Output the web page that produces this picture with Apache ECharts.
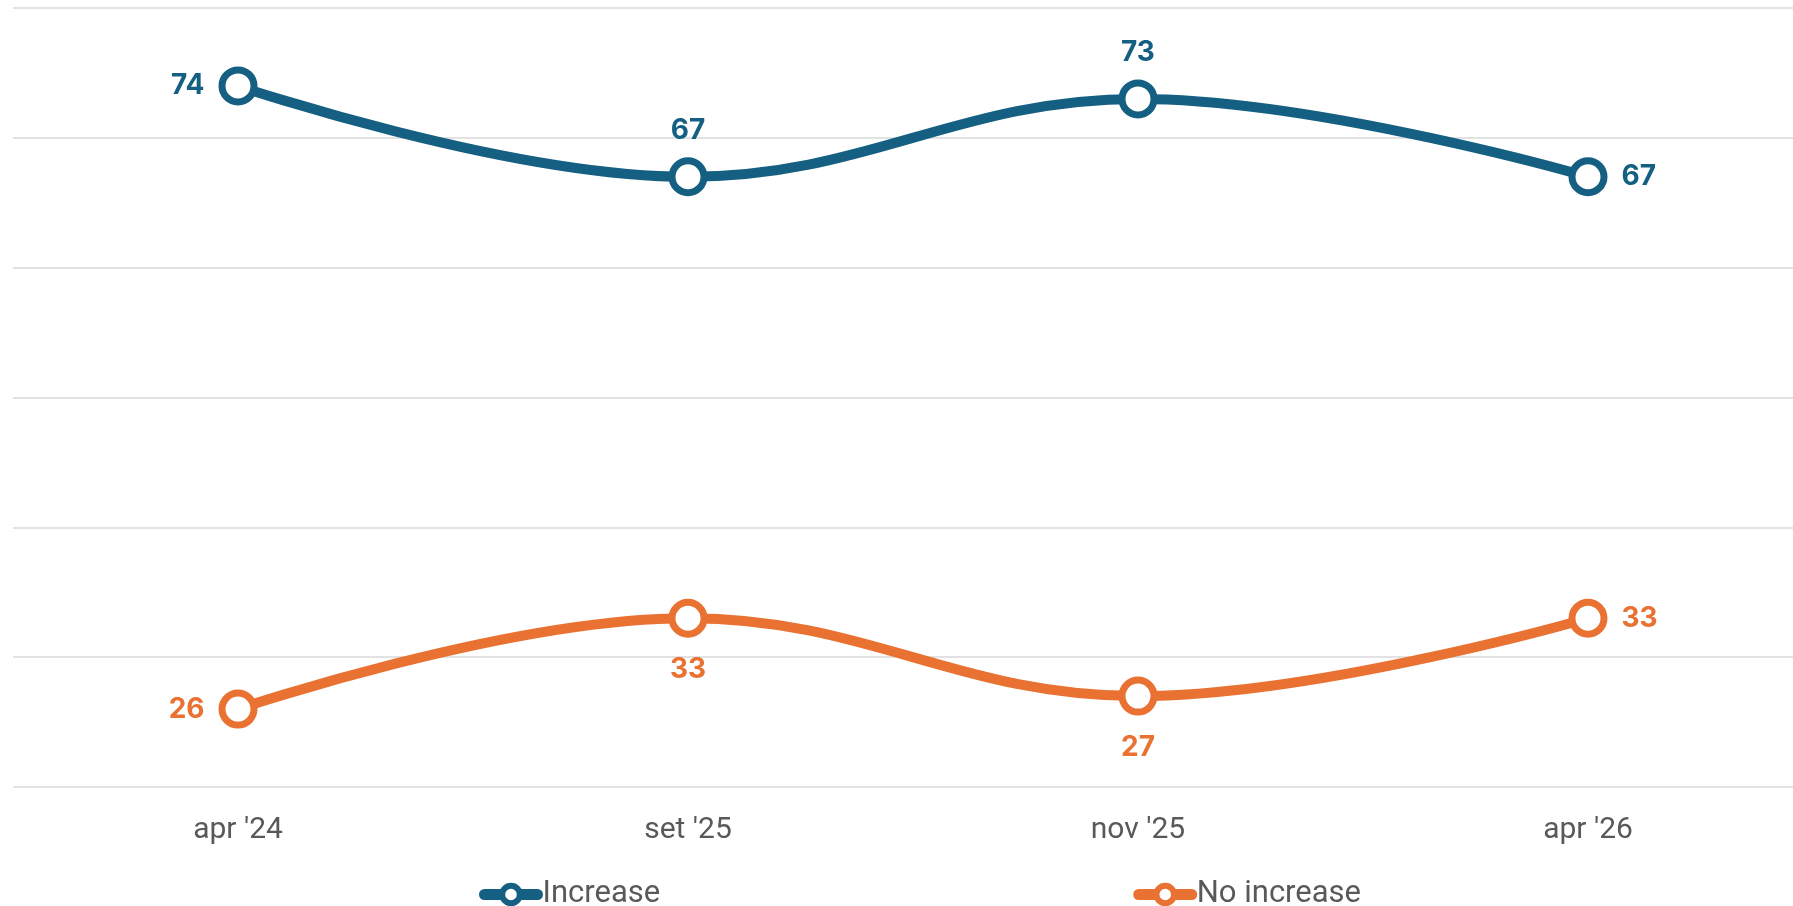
<!DOCTYPE html>
<html>
<head>
<meta charset="utf-8">
<script src="https://cdn.jsdelivr.net/npm/echarts@6/dist/echarts.min.js"></script>
<style>
html,body{margin:0;padding:0;background:#fff;}
#chart{width:1793px;height:906px;}
</style>
</head>
<body>
<div id="chart"></div>
<script>
const categories = ["apr '24", "set '25", "nov '25", "apr '26"];
const increase = [74, 67, 73, 67];
const noIncrease = [26, 33, 27, 33];
const seriesNames = ["Increase", "No increase"];
const yTicks = { min: 20, max: 80, interval: 10 };

const colors = ['#156082', '#E97132'];
const labelPos = [
  ['left', 'top', 'top', 'right'],
  ['left', 'bottom', 'bottom', 'right']
];
const labelDist = { left: 14, right: 14, top: 13, bottom: 18 };

function buildSeries(name, values, color, positions) {
  return {
    name: name,
    type: 'line',
    smooth: 0.4,
    symbol: 'circle',
    symbolSize: 32,
    lineStyle: { width: 10, color: color },
    itemStyle: { color: '#ffffff', borderColor: color, borderWidth: 7 },
    data: values.map((v, i) => ({
      value: v,
      label: { position: positions[i], distance: labelDist[positions[i]] }
    })),
    label: {
      show: true,
      color: color,
      fontFamily: 'Inter',
      fontWeight: 'bold',
      fontSize: 28
    },
    emphasis: { disabled: true },
    z: 3
  };
}

const chart = echarts.init(document.getElementById('chart'), null, { renderer: 'canvas' });
chart.setOption({
  animation: false,
  backgroundColor: '#ffffff',
  grid: { left: 13, right: -20, top: 8, bottom: 119, containLabel: false, outerBoundsMode: 'none' },
  legend: {
    left: 474,
    top: 874,
    itemGap: 473,
    itemWidth: 53,
    itemHeight: 22,
    lineStyle: { width: 11, cap: 'round' },
    itemStyle: { borderWidth: 6 },
    textStyle: { color: '#595959', fontFamily: 'Roboto', fontSize: 31 },
    data: seriesNames
  },
  xAxis: {
    type: 'category',
    data: categories,
    boundaryGap: true,
    axisLine: { show: false },
    axisTick: { show: false },
    axisLabel: { color: '#595959', fontFamily: 'Roboto', fontSize: 30, margin: 28 }
  },
  yAxis: {
    type: 'value',
    min: yTicks.min,
    max: yTicks.max,
    interval: yTicks.interval,
    axisLabel: { show: false },
    axisLine: { show: false },
    axisTick: { show: false },
    splitLine: { lineStyle: { color: '#D9D9D9', width: 1.5 } }
  },
  series: [
    buildSeries(seriesNames[0], increase, colors[0], labelPos[0]),
    buildSeries(seriesNames[1], noIncrease, colors[1], labelPos[1])
  ]
});
</script>
</body>
</html>
